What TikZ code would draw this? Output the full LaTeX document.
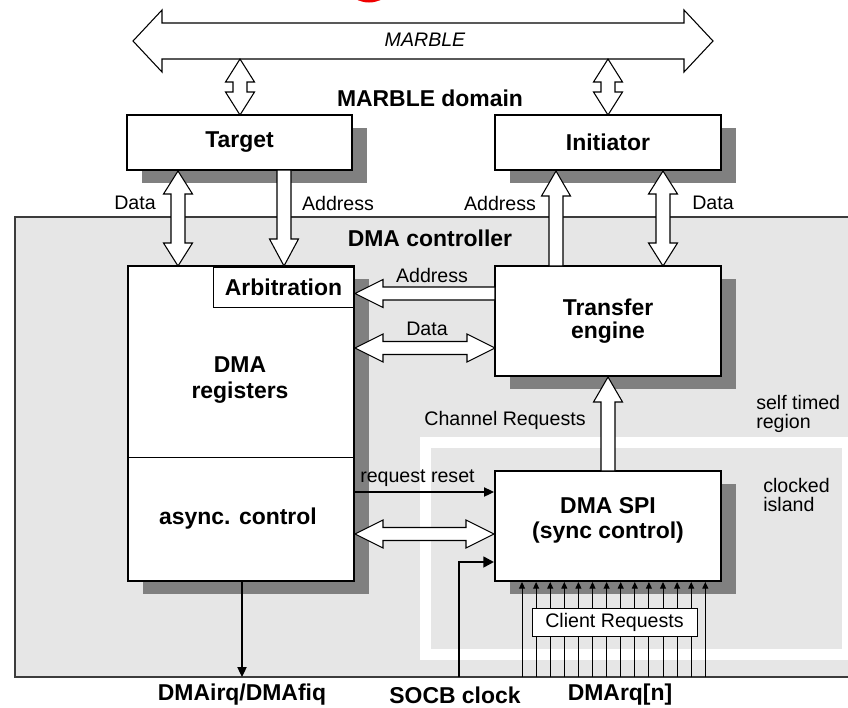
\documentclass[tikz,border=0pt]{standalone}
\usepackage{fontspec}
\setmainfont{Liberation Sans}
\usetikzlibrary{arrows.meta,shadows}
\definecolor{regiongray}{HTML}{E6E6E6}
\definecolor{shadowgray}{HTML}{808080}
\definecolor{regionline}{HTML}{3C3C3C}
\definecolor{markred}{HTML}{F00000}

% hollow block arrows (coordinates in pixels, y downwards)
\newcommand\blkvdbl[3]{% vertical double arrow at x=#1, tips at y=#2 and y=#3
  \draw[blockarrow] (#1,#2) -- (#1+14.5,#2+23) -- (#1+7,#2+23) -- (#1+7,#3-23)
    -- (#1+14.5,#3-23) -- (#1,#3) -- (#1-14.5,#3-23) -- (#1-7,#3-23)
    -- (#1-7,#2+23) -- (#1-14.5,#2+23) -- cycle;}
\newcommand\blkup[3]{% upward arrow at x=#1, tip at y=#2, base at y=#3
  \draw[blockarrow] (#1,#2) -- (#1+14.5,#2+25) -- (#1+7,#2+25) -- (#1+7,#3)
    -- (#1-7,#3) -- (#1-7,#2+25) -- (#1-14.5,#2+25) -- cycle;}
\newcommand\blkdown[3]{% downward arrow at x=#1, base at y=#2, tip at y=#3
  \draw[blockarrow] (#1,#3) -- (#1+14.5,#3-27) -- (#1+7,#3-27) -- (#1+7,#2)
    -- (#1-7,#2) -- (#1-7,#3-27) -- (#1-14.5,#3-27) -- cycle;}
\newcommand\blkhdbl[3]{% horizontal double arrow at y=#1, tips at x=#2 and x=#3
  \draw[blockarrow] (#2,#1) -- (#2+28,#1-14) -- (#2+28,#1-6.5) -- (#3-28,#1-6.5)
    -- (#3-28,#1-14) -- (#3,#1) -- (#3-28,#1+14) -- (#3-28,#1+6.5)
    -- (#2+28,#1+6.5) -- (#2+28,#1+14) -- cycle;}
\newcommand\blkleft[3]{% leftward arrow at y=#1, tip at x=#2, base at x=#3
  \draw[blockarrow] (#2,#1) -- (#2+28,#1-14) -- (#2+28,#1-6.5) -- (#3,#1-6.5)
    -- (#3,#1+6.5) -- (#2+28,#1+6.5) -- (#2+28,#1+14) -- cycle;}

\begin{document}
\begin{tikzpicture}[x=0.75pt,y=-0.75pt,
  box/.style={draw=black,line width=1.9pt,fill=white,inner sep=0pt,outer sep=0pt,
    drop shadow={shadow xshift=11.25pt,shadow yshift=-9.75pt,fill=shadowgray,opacity=1}},
  boxsize/.style 2 args={minimum width=#1*0.75pt,minimum height=#2*0.75pt},
  thinbox/.style={draw=black,line width=0.75pt,fill=white,inner sep=0pt},
  blockarrow/.style={draw=black,line width=0.8pt,fill=white,line join=miter},
  lbl/.style={font=\fontsize{14.7}{14.3}\selectfont,inner sep=0pt},
  blbl/.style={font=\fontsize{17.2}{17.3}\selectfont\bfseries,inner sep=0pt,align=center},
  sig/.style={line width=0.8pt,-{Triangle[length=7.5pt,width=7pt]}},
  rq/.style={line width=0.75pt,-{Triangle[length=5pt,width=4.5pt]}},
]
\useasboundingbox (0,0) rectangle (848,707);
\clip (0,0) rectangle (848,707);

% mark at the top edge
\fill[markred] (369,-25.5) circle[radius=28];

% DMA controller region
\draw[regionline,line width=0.8pt,fill=regiongray] (15,217) rectangle (870,677);
% self timed boundary and clocked island
\fill[white] (420,437) rectangle (870,660);
\fill[regiongray] (431,448) rectangle (842,649);

% MARBLE bus
\draw[blockarrow] (133,41) -- (162,10) -- (162,23) -- (684,23) -- (684,10) -- (713,41)
  -- (684,72) -- (684,59) -- (162,59) -- (162,72) -- cycle;
\node[lbl,font=\fontsize{14.7}{14.3}\selectfont\itshape] (bus) at (425,40) {MARBLE};
\node[blbl] (domain) at (430,98) {MARBLE domain};

% blocks
\node[box,boxsize={225}{55}] (target) at (239.5,142.5) {};
\node[blbl] at (target) {Target};
\node[box,boxsize={226}{55}] (initiator) at (608,142.5) {};
\node[blbl] at (initiator) {Initiator};
\node[box,boxsize={226}{315}] (regs) at (241,423.5) {};
\node[box,boxsize={226}{110}] (transfer) at (608,321) {};
\node[blbl,font=\fontsize{17.2}{17.3}\selectfont\bfseries] at (transfer) {Transfer\\engine};
\node[box,boxsize={226}{110}] (spi) at (608,526) {};
\node[blbl,font=\fontsize{17.2}{18.8}\selectfont\bfseries] at (608,520) {DMA SPI\\(sync control)};

% inside the DMA registers block
\node[thinbox,boxsize={141}{40}] (arb) at (283.5,287) {};
\node[blbl] at (arb) {Arbitration};
\draw[line width=0.75pt] (128,457) -- (354,457);
\draw[line width=1.9pt] (128,266) rectangle (354,581);
\node[blbl,font=\fontsize{17.2}{20}\selectfont\bfseries] (reglbl) at (240,380) {DMA\\registers};
\node[blbl] (async) at (238,519) {async. control};

% block arrows
\blkvdbl{240}{59}{115}
\blkvdbl{608}{59}{115}
\blkvdbl{178}{171}{266}
\blkdown{284}{170}{266}
\blkup{556}{171}{266}
\blkvdbl{663}{171}{266}
\blkleft{293.5}{355}{495}
\blkhdbl{348}{355}{495}
\blkup{608}{377}{471}
\blkhdbl{534}{355}{494}

% signal lines
\draw[sig] (354,492) -- (494,492);
\draw[line width=1.9pt,-{Triangle[length=8pt,width=8pt]}] (459,677) -- (459,562) -- (494,562);
\draw[sig] (242,581) -- (242,677);
\foreach \i in {0,...,13}
  \draw[rq] (522+14.1*\i,677) -- (522+14.1*\i,582);
\node[thinbox,boxsize={165}{28},lbl] (client) at (614.5,622) {Client Requests};

% labels
\node[lbl] at (135,203) {Data};
\node[lbl] at (338,203) {Address};
\node[lbl] at (500,203) {Address};
\node[lbl] at (713,203) {Data};
\node[blbl] at (430,238) {DMA controller};
\node[lbl] at (432,275) {Address};
\node[lbl] at (427,329) {Data};
\node[lbl] at (505,420) {Channel Requests};
\node[lbl,anchor=west,align=left] at (756,413.5) {self timed\\region};
\node[lbl,anchor=west,align=left] at (763,495) {clocked\\island};
\node[lbl,anchor=west] at (360,478) {request reset};
\node[blbl] at (242,695) {DMAirq/DMAfiq};
\node[blbl] at (455,695) {SOCB clock};
\node[blbl] at (620,695) {DMArq[n]};
\end{tikzpicture}
\end{document}
